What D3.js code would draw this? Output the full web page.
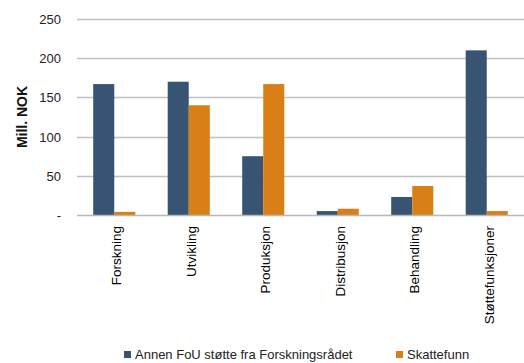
<!DOCTYPE html>
<html>
<head>
<meta charset="utf-8">
<script src="https://cdn.jsdelivr.net/npm/d3@7"></script>
<style>
  html, body { margin: 0; padding: 0; background: #fff; }
  svg { display: block; font-family: "Liberation Sans", Arial, sans-serif; }
</style>
</head>
<body>
<svg id="chart" width="524" height="363"></svg>
<script>
// Categories along the x axis
const categories = ["Forskning", "Utvikling", "Produksjon", "Distribusjon", "Behandling", "Støttefunksjoner"];
// Series names and values (Mill. NOK)
const seriesNames = ["Annen FoU støtte fra Forskningsrådet", "Skattefunn"];
const annenFoU = [167, 170, 75, 5, 23, 210];
const skattefunn = [4, 140, 167, 8, 37, 5];
const yTicks = [0, 50, 100, 150, 200, 250];
const colors = ["#375572", "#d97f17"];

const svg = d3.select("#chart");
const W = 524;
const plotLeft = 77, plotTop = 19, plotBottom = 215;

const x = d3.scaleBand().domain(categories).range([plotLeft, W]).paddingInner(0).paddingOuter(0);
const xInner = d3.scaleBand().domain(seriesNames).range([0, x.bandwidth()]).paddingInner(0).paddingOuter(0.77);
const y = d3.scaleLinear().domain([0, 250]).range([plotBottom, plotTop]);

// Gridlines
svg.append("g")
  .selectAll("line")
  .data(yTicks.filter(d => d > 0))
  .join("line")
  .attr("x1", plotLeft).attr("x2", W)
  .attr("y1", d => Math.round(y(d)) + 0.5).attr("y2", d => Math.round(y(d)) + 0.5)
  .attr("stroke", "#c0c0c0").attr("stroke-width", 1.5);

// Y tick labels (zero shown as a dash)
const yAxis = d3.axisLeft(y).tickValues(yTicks).tickSize(0).tickPadding(0)
  .tickFormat(d => d === 0 ? "-" : d3.format("d")(d));
const gy = svg.append("g").attr("transform", `translate(61,0)`).call(yAxis);
gy.select(".domain").remove();
gy.selectAll("text").attr("font-size", 13).attr("fill", "#222").attr("dy", "0.35em");

// Y axis title
svg.append("text")
  .attr("transform", `translate(27,117) rotate(-90)`)
  .attr("text-anchor", "middle")
  .attr("font-size", 14).attr("font-weight", "bold").attr("fill", "#111")
  .text("Mill. NOK");

// Bars
const data = categories.map((c, i) => ({ cat: c, vals: [annenFoU[i], skattefunn[i]] }));
const groups = svg.append("g").selectAll("g")
  .data(data).join("g")
  .attr("transform", d => `translate(${x(d.cat)},0)`);
groups.selectAll("rect")
  .data(d => d.vals.map((v, k) => ({ v, k })))
  .join("rect")
  .attr("x", d => xInner(seriesNames[d.k]))
  .attr("width", xInner.bandwidth())
  .attr("y", d => y(d.v))
  .attr("height", d => y(0) - y(d.v))
  .attr("fill", d => colors[d.k]);

// X axis line
svg.append("line")
  .attr("x1", plotLeft).attr("x2", W)
  .attr("y1", plotBottom + 0.5).attr("y2", plotBottom + 0.5)
  .attr("stroke", "#b8b8b8").attr("stroke-width", 1.5);

// X axis labels (rotated)
const xAxis = d3.axisBottom(x).tickSize(0).tickPadding(0);
const gx = svg.append("g").attr("transform", `translate(0,${plotBottom})`).call(xAxis);
gx.select(".domain").remove();
gx.selectAll("text")
  .attr("font-size", 13.5).attr("fill", "#000")
  .attr("text-anchor", "end")
  .attr("transform", "translate(7,11) rotate(-90)")
  .attr("x", 0).attr("y", 0).attr("dy", 0);

// Legend
const legendX = [124, 396];
const legend = svg.append("g").selectAll("g")
  .data(seriesNames).join("g")
  .attr("transform", (d, i) => `translate(${legendX[i]},351)`);
legend.append("rect").attr("width", 7).attr("height", 7).attr("fill", (d, i) => colors[i]);
legend.append("text").attr("x", 11).attr("y", 7.5)
  .attr("font-size", 13).attr("fill", "#222").text(d => d);
</script>
</body>
</html>
